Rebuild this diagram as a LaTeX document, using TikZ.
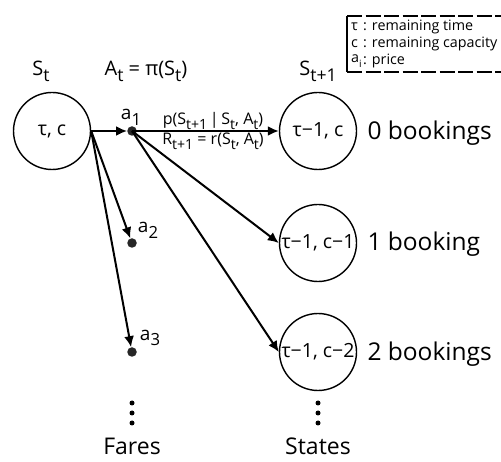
\documentclass[tikz,border=0pt]{standalone}
\usepackage{fontspec}
\setmainfont{Open Sans}
\usetikzlibrary{arrows.meta}
\newcommand{\dn}[1]{\raisebox{-0.3em}{\scalebox{0.88}{#1}}}
\newcommand{\fs}[1]{\fontsize{#1}{#1}\selectfont}
\begin{document}
\begin{tikzpicture}[x=1pt,y=-1pt,
  state/.style={circle,draw,line width=1.4pt,minimum size=77pt,inner sep=0pt,font=\fs{19.5}},
  fare/.style={circle,fill=black!85,minimum size=9.5pt,inner sep=0pt},
  arr/.style={line width=2pt,-{Latex[length=11pt,width=10pt]}},
  lbl/.style={font=\fs{20}},
  big/.style={font=\fs{24.5},anchor=west},
  elab/.style={font=\fs{16},inner sep=1pt},
  leg/.style={font=\fs{14.3},anchor=west,inner sep=0pt},
  vdots/.style={circle,fill=black,minimum size=5pt,inner sep=0pt}
]
\useasboundingbox (0,0) rectangle (501,462);
% legend
\draw[line width=1.8pt,dash pattern=on 15pt off 3.5pt] (347,16) -- (501,16);
\draw[line width=1.8pt,dash pattern=on 15pt off 3.5pt] (347,72) -- (501,72);
\draw[line width=1.8pt] (347,16) -- (347,72);
\node[leg] (l1) at (351,27) {τ};
\node[leg] (l1t) at (363,27) {: remaining time};
\node[leg] (l2) at (351,44) {c};
\node[leg] (l2t) at (363,44) {: remaining capacity};
\node[leg] (l3) at (351,61) {a\raisebox{-0.3em}{\scalebox{0.7}{i}}};
\node[leg] (l3t) at (363,61) {: price};
% headers
\node[lbl] (hs) at (41,71) {S\dn{t}};
\node[lbl] (ha) at (146,71) {A\dn{t} = π(S\dn{t})};
\node[lbl] (hs1) at (318,71) {S\dn{t+1}};
% states
\node[state] (s0) at (52,131) {τ, c};
\node[state] (s1) at (318,131) {τ−1, c};
\node[state] (s2) at (318,243) {τ−1, c−1};
\node[state] (s3) at (318,352) {τ−1, c−2};
\node[big] (b1) at (364,133) {0 bookings};
\node[big] (b2) at (364,244) {1 booking};
\node[big] (b3) at (364,354) {2 bookings};
% fares
\node[fare] (a1) at (132,131) {};
\node[fare] (a2) at (132,243) {};
\node[fare] (a3) at (132,352) {};
\node[lbl,font=\fs{19}] (la1) at (131,117) {a\dn{1}};
\node[lbl,font=\fs{19}] (la2) at (148,230) {a\dn{2}};
\node[lbl,font=\fs{19}] (la3) at (150,338) {a\dn{3}};
% arrows
\draw[arr] (s0.east) -- (a1.west);
\draw[arr] (s0.east) -- (a2);
\draw[arr] (s0.east) -- (a3);
\draw[arr] (a1.center) -- (s1.west);
\draw[arr] (a1.center) -- (s2.west);
\draw[arr] (a1.center) -- (s3.west);
\node[elab] (p) at (213,121) {p(S\dn{t+1}\,|\,S\dn{t}, A\dn{t})};
\node[elab] (r) at (213,141) {R\dn{t+1} = r(S\dn{t}, A\dn{t})};
% dots
\node[vdots] (d1) at (132,403) {};
\node[vdots] (d2) at (132,413) {};
\node[vdots] (d3) at (132,423) {};
\node[vdots] (e1) at (318,403) {};
\node[vdots] (e2) at (318,413) {};
\node[vdots] (e3) at (318,423) {};
\node[font=\fs{23}] (fares) at (132,446) {Fares};
\node[font=\fs{23}] (states) at (318,446) {States};
\end{tikzpicture}
\end{document}
